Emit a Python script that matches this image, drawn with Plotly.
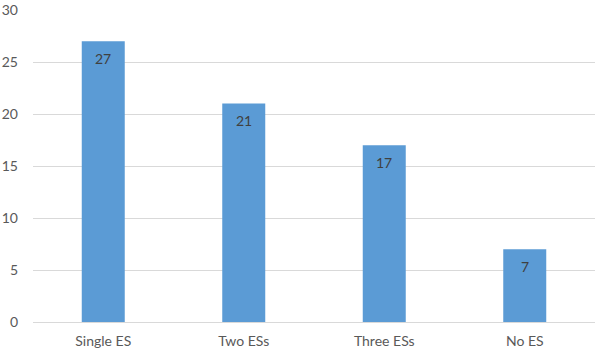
import plotly.graph_objects as go

categories = ["Single ES", "Two ESs", "Three ESs", "No ES"]
values = [27, 21, 17, 7]
y_ticks = [0, 5, 10, 15, 20, 25, 30]

FONT = "Lato, Carlito, sans-serif"

fig = go.Figure(go.Bar(
    x=categories,
    y=values,
    marker=dict(color="#5B9BD5", line=dict(width=0)),
    hoverinfo="skip",
))

for c, v in zip(categories, values):
    fig.add_annotation(
        x=c, y=v, text=str(v), showarrow=False,
        yanchor="middle", xanchor="center", yshift=-17,
        font=dict(family=FONT, size=14, color="#404040"),
    )

fig.update_layout(
    width=597, height=353,
    margin=dict(l=33, r=2, t=9.5, b=31),
    paper_bgcolor="white",
    plot_bgcolor="white",
    bargap=0.694,
    showlegend=False,
    font=dict(family=FONT, size=14, color="#595959"),
)
fig.update_xaxes(
    showgrid=False, showline=False, ticks="", ticklabelstandoff=9,
    tickfont=dict(size=14, color="#595959"),
)
fig.update_yaxes(
    range=[0, 30], tickvals=y_ticks, showgrid=True, gridcolor="#D9D9D9", gridwidth=1,
    zeroline=True, zerolinecolor="#D9D9D9", zerolinewidth=1,
    showline=False, ticks="", ticklabelstandoff=14,
    tickfont=dict(size=14, color="#595959"),
)

fig.write_html(
    "out.html",
    config={"displayModeBar": False, "staticPlot": True},
    post_script="document.body.style.margin='0';document.body.style.overflow='hidden';",
)
